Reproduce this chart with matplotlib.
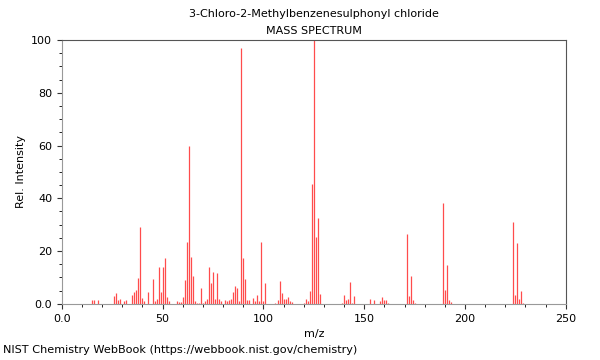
import matplotlib
matplotlib.use("Agg")
import matplotlib.pyplot as plt
from matplotlib.ticker import MultipleLocator, FuncFormatter

# m/z and relative intensity
mz = [15, 16, 18, 26, 27, 28, 29, 31, 32, 35, 36, 37, 38, 39, 40, 41, 43,
      45, 46, 47, 48, 49, 50, 51, 52, 53, 57, 58, 59, 60, 61, 62, 63, 64,
      65, 66, 67, 68, 69, 70, 71, 72, 73, 74, 75, 76, 77, 78, 79, 81, 82,
      83, 84, 85, 86, 87, 88, 89, 90, 91, 92, 93, 95, 96, 97, 98, 99, 100,
      101, 106, 107, 108, 109, 110, 111, 112, 113, 114, 120, 121, 122, 123,
      124, 125, 126, 127, 128, 139, 140, 141, 142, 143, 144, 145, 153, 155,
      158, 159, 160, 161, 162, 171, 172, 173, 174, 175, 189, 190, 191, 192,
      193, 224, 225, 226, 227, 228, 229]
intensity = [1.5, 1.5, 1.5, 3.1, 4.1, 1.5, 2.0, 1.0, 1.5, 3.3, 4.3, 5.1, 9.8,
             29.2, 2.4, 1.0, 4.3, 9.6, 1.0, 2.0, 13.9, 4.5, 13.9, 17.3, 2.5,
             1.0, 1.0, 0.7, 0.7, 2.5, 9.1, 23.5, 60.0, 17.9, 10.6, 1.0, 0.5,
             0.5, 6.0, 0.5, 1.0, 2.0, 14.1, 7.8, 12.2, 2.0, 11.6, 2.0, 1.0,
             1.3, 1.0, 1.3, 1.8, 4.3, 6.9, 6.1, 1.0, 96.8, 17.4, 9.5, 1.3,
             1.3, 2.3, 1.0, 3.3, 1.0, 23.5, 1.0, 8.0, 0.5, 1.3, 8.7, 4.2, 1.8,
             1.8, 2.5, 1.0, 0.7, 0.5, 1.8, 1.0, 4.8, 45.5, 100.0, 25.5, 32.4,
             3.9, 0.5, 3.3, 1.3, 1.8, 8.2, 0.5, 3.1, 1.8, 1.3, 1.0, 2.5, 1.3,
             1.3, 0.5, 26.4, 3.0, 10.5, 1.3, 0.5, 38.3, 5.1, 14.8, 1.3, 0.8,
             31.0, 3.3, 23.1, 2.0, 4.8, 0.5]

compound = "3-Chloro-2-Methylbenzenesulphonyl chloride"

fig = plt.figure(figsize=(6, 3.6), dpi=100)
ax = fig.add_axes([0.103, 0.156, 0.840, 0.733])

ax.vlines(mz, 0, intensity, color="#ff0000", alpha=0.7, linewidth=0.9)

ax.set_xlim(0, 250)
ax.set_ylim(0, 100)
ax.xaxis.set_major_locator(MultipleLocator(50))
ax.xaxis.set_minor_locator(MultipleLocator(10))
ax.yaxis.set_major_locator(MultipleLocator(20))
ax.yaxis.set_minor_locator(MultipleLocator(5))
fmt = FuncFormatter(lambda v, p: "0.0" if v == 0 else f"{v:.0f}")
ax.xaxis.set_major_formatter(fmt)
ax.yaxis.set_major_formatter(fmt)
ax.tick_params(labelsize=8, colors="#333333", labelcolor="black")
ax.spines[:].set_color("#555555")
ax.spines["left"].set_color("#999999")
ax.spines["bottom"].set_color("#999999")

ax.set_xlabel("m/z", fontsize=8)
ax.set_ylabel("Rel. Intensity", fontsize=8)
ax.set_title(compound + "\nMASS SPECTRUM", fontsize=8, linespacing=1.9, pad=4)

fig.text(0.005, 0.02, "NIST Chemistry WebBook (https://webbook.nist.gov/chemistry)",
         fontsize=8.1)

fig.savefig("out.png", dpi=100)
